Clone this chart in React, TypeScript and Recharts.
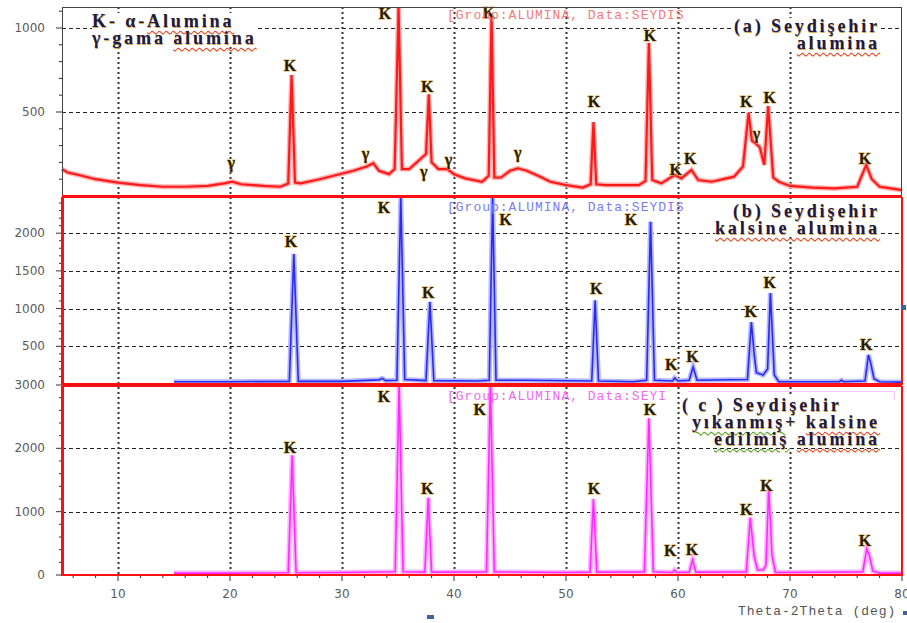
import React from 'react';
import { ComposedChart, Line, XAxis, YAxis } from 'recharts';

// panel (a) Seydişehir alumina (peaks running off the frame are read as the frame top)
const angleA = [5, 5.5, 6.5, 8, 10, 12, 14, 16, 18, 19.5, 20.2, 21, 23, 24.5, 25.2, 25.5, 25.8, 26.3, 28, 29.5, 31, 32.2, 32.8, 33.3, 34.2, 34.7, 35.05, 35.35, 36, 37, 37.5, 37.75, 38, 38.6, 39.4, 40, 41, 42.5, 43.1, 43.35, 43.6, 44.2, 45, 45.7, 46.5, 47.5, 48.6, 50, 51.5, 52.2, 52.45, 52.7, 53.5, 55, 56.5, 57.1, 57.4, 57.7, 58.5, 59.7, 60.3, 61.2, 61.8, 63, 65, 65.8, 66.3, 66.6, 66.9, 67.3, 67.7, 68.05, 68.5, 69, 70, 72, 74, 76, 76.8, 77.3, 78, 79, 80];
const countsA = [160, 140, 125, 100, 80, 65, 55, 55, 60, 75, 85, 70, 60, 55, 75, 720, 80, 75, 100, 125, 150, 175, 195, 150, 130, 160, 1125, 160, 160, 220, 250, 605, 200, 160, 160, 130, 105, 85, 120, 1080, 110, 110, 150, 165, 150, 120, 85, 65, 50, 70, 440, 70, 65, 65, 65, 90, 910, 95, 75, 125, 105, 155, 95, 85, 115, 175, 495, 330, 315, 290, 185, 535, 110, 85, 60, 50, 45, 55, 185, 100, 55, 45, 35];

// panel (b) kalsine alumina
const angleB = [15, 20, 25.3, 25.7, 26.1, 30, 33.3, 33.6, 33.9, 34.9, 35.25, 35.6, 37.5, 37.85, 38.2, 42, 43.15, 43.45, 43.75, 46.5, 52.3, 52.6, 52.9, 56, 57.2, 57.55, 57.9, 59.5, 59.7, 60, 61, 61.35, 61.7, 66.2, 66.55, 66.8, 67, 67.6, 68, 68.25, 68.6, 69, 74.4, 74.6, 74.8, 76.7, 77, 77.2, 77.5, 78, 80];
const countsB = [30, 30, 35, 1725, 35, 35, 55, 75, 45, 50, 2480, 60, 45, 1090, 45, 40, 50, 2480, 50, 50, 40, 1110, 40, 30, 50, 2150, 50, 40, 80, 40, 50, 225, 50, 60, 820, 400, 150, 120, 200, 1205, 120, 30, 30, 50, 30, 40, 385, 280, 70, 30, 25];

// panel (c) yıkanmış + kalsine edilmiş alumina
const angleC = [15, 20, 25.2, 25.55, 25.9, 30, 34.75, 35.1, 35.45, 37.4, 37.7, 38, 42.9, 43.25, 43.6, 50, 52.15, 52.45, 52.75, 57, 57.4, 57.8, 59.5, 59.7, 59.9, 61, 61.3, 61.6, 66.1, 66.45, 66.8, 67.1, 67.6, 67.85, 68.1, 68.4, 68.7, 76.5, 76.85, 77.1, 77.4, 78, 80];
const countsC = [30, 30, 35, 1890, 35, 40, 50, 3000, 50, 45, 1220, 45, 50, 3000, 50, 40, 45, 1200, 45, 50, 2475, 50, 40, 80, 40, 45, 240, 45, 50, 905, 300, 80, 80, 150, 1350, 300, 40, 50, 415, 300, 60, 30, 30];

// peak marks: angle, counts, symbol
const marksA = [
  [25.36, 779, 'K'], [33.84, 1089, 'K'], [37.6, 654, 'K'], [43.1, 1095, 'K'], [52.5, 565, 'K'], [57.5, 958, 'K'],
  [59.8, 155, 'K'], [61.1, 226, 'K'], [66.1, 565, 'K'], [68.2, 589, 'K'], [76.7, 226, 'K'],
  [20.1, 200, 'γ'], [32.1, 255, 'γ'], [37.3, 143, 'γ'], [39.5, 215, 'γ'], [45.7, 260, 'γ'], [67.0, 375, 'γ'],
];
const marksB = [
  [25.45, 1896, 'K'], [33.75, 2347, 'K'], [37.7, 1220, 'K'], [44.6, 2175, 'K'], [52.7, 1260, 'K'], [55.8, 2175, 'K'],
  [59.4, 265, 'K'], [61.3, 371, 'K'], [66.5, 955, 'K'], [68.2, 1340, 'K'], [76.8, 530, 'K'],
];
const marksC = [
  [25.36, 2015, 'K'], [33.75, 2825, 'K'], [37.6, 1365, 'K'], [42.3, 2619, 'K'], [52.5, 1365, 'K'], [57.5, 2619, 'K'],
  [59.3, 381, 'K'], [61.25, 397, 'K'], [66.1, 1032, 'K'], [67.9, 1412, 'K'], [76.7, 540, 'K'],
];

const xTicks = [6, 8, 10, 12, 14, 16, 18, 20, 22, 24, 26, 28, 30, 32, 34, 36, 38, 40, 42, 44, 46, 48, 50, 52, 54, 56, 58, 60, 62, 64, 66, 68, 70, 72, 74, 76, 78, 80];
const xLabels = [10, 20, 30, 40, 50, 60, 70, 80];
const xGrid = [10, 20, 30, 40, 50, 60, 70];

const yTicksA = [100, 200, 300, 400, 500, 600, 700, 800, 900, 1000, 1100];
const yLabelsA = [500, 1000];
const yTicksB = [100, 200, 300, 400, 500, 600, 700, 800, 900, 1000, 1100, 1200, 1300, 1400, 1500, 1600, 1700, 1800, 1900, 2000, 2100, 2200, 2300, 2400];
const yLabelsB = [500, 1000, 1500, 2000];
const yTicksC = [0, 200, 400, 600, 800, 1000, 1200, 1400, 1600, 1800, 2000, 2200, 2400, 2600, 2800, 3000];
const yLabelsC = [0, 1000, 2000, 3000];

const W = 907;
const PLOT_L = 62;
const PLOT_R = 902;
const X_MIN = 5;
const X_MAX = 80;
const tickFont = { fontFamily: 'DejaVu Sans', fontSize: 12, fill: '#5a5a5a' };
const serif = "'Liberation Serif', 'DejaVu Serif', serif";

// plot boxes of the three stacked panels (page pixels)
const PANELS = [
  { top: 7, h: 189, yMax: 1125, grid: [500, 1000] },
  { top: 197, h: 187, yMax: 2480, grid: [500, 1000, 1500, 2000] },
  { top: 385, h: 190, yMax: 3000, grid: [1000, 2000] },
];

const toPoints = (xs: number[], ys: number[]) => xs.map((x, i) => ({ x, y: ys[i] }));
const toMarks = (m: any[]) => m.map(([x, y, t]) => ({ x, y, t }));

const pointsA = toPoints(angleA, countsA);
const pointsB = toPoints(angleB, countsB);
const pointsC = toPoints(angleC, countsC);
const kA = toMarks(marksA);
const kB = toMarks(marksB);
const kC = toMarks(marksC);

const gx = (v: number) => PLOT_L + ((v - X_MIN) / (X_MAX - X_MIN)) * (PLOT_R - PLOT_L);

function GridLayer() {
  return (
    <svg width={W} height={623} style={{ position: 'absolute', left: 0, top: 0 }}>
      {PANELS.map((p, i) =>
        p.grid.map((v) => {
          const y = Math.round(p.top + p.h * (1 - v / p.yMax)) + 0.5;
          return <line key={i + '-' + v} x1={PLOT_L} x2={PLOT_R} y1={y} y2={y} stroke="#222" strokeWidth={1.2} strokeDasharray="4 3" />;
        })
      )}
      {xGrid.map((v) => {
        const x = Math.round(gx(v)) + 0.5;
        return <line key={'v' + v} x1={x} x2={x} y1={7} y2={575} stroke="#333" strokeWidth={2} strokeDasharray="2 3" />;
      })}
    </svg>
  );
}

function YTick(props: any) {
  const { x, y, payload, labels } = props;
  const major = labels.includes(payload.value);
  return (
    <g>
      <line x1={x - (major ? 6 : 3)} x2={x} y1={y} y2={y} stroke="#333" strokeWidth={1} />
      {major && (
        <text x={x - 17} y={y} textAnchor="end" dominantBaseline="central" {...tickFont}>
          {payload.value}
        </text>
      )}
    </g>
  );
}

function XTick(props: any) {
  const { x, y, payload } = props;
  const major = xLabels.includes(payload.value);
  return (
    <g>
      <line x1={x} x2={x} y1={y} y2={y + (major ? 6 : 3)} stroke="#333" strokeWidth={1} />
      {major && (
        <text x={x} y={y + 19} textAnchor="middle" dominantBaseline="central" {...tickFont}>
          {payload.value}
        </text>
      )}
    </g>
  );
}

function Mark(props: any) {
  const { cx, cy, payload } = props;
  return (
    <text
      key={`${payload.x}-${payload.y}`}
      x={cx}
      y={cy}
      textAnchor="middle"
      dominantBaseline="central"
      fontFamily={serif}
      fontWeight="bold"
      fontSize={16}
      fill="#231d0c"
      stroke="#e2a83a"
      strokeWidth={0.9}
      paintOrder="stroke"
    >
      {payload.t}
    </text>
  );
}

interface PanelProps {
  id: string;
  top: number;
  height: number;
  margin: { top: number; bottom: number };
  points: { x: number; y: number }[];
  marks: { x: number; y: number; t: string }[];
  color: string;
  pale: string;
  yMax: number;
  yTicks: number[];
  yLabels: number[];
  showX?: boolean;
  lineWidth: number;
}

function Panel({ id, top, height, margin, points, marks, color, pale, yMax, yTicks, yLabels, showX, lineWidth }: PanelProps) {
  return (
    <div style={{ position: 'absolute', left: 0, top }}>
      <ComposedChart id={id} width={W} height={height} margin={{ top: margin.top, bottom: margin.bottom, left: 0, right: W - PLOT_R }}>
        <XAxis
          type="number"
          dataKey="x"
          domain={[X_MIN, X_MAX]}
          ticks={xTicks}
          interval={0}
          hide={!showX}
          height={30}
          axisLine={false}
          tickLine={false}
          tickSize={0}
          tickMargin={0}
          tick={<XTick />}
        />
        <YAxis
          type="number"
          dataKey="y"
          domain={[0, yMax]}
          ticks={yTicks}
          interval={0}
          width={PLOT_L}
          axisLine={false}
          tickLine={false}
          tickSize={0}
          tickMargin={0}
          tick={<YTick labels={yLabels} />}
        />
        <Line data={points} dataKey="y" type="linear" stroke={pale} strokeWidth={5} dot={false} isAnimationActive={false} />
        <Line data={points} dataKey="y" type="linear" stroke={color} strokeWidth={lineWidth} dot={false} isAnimationActive={false} />
        {/* peak labels: invisible line, one text mark per point */}
        <Line data={marks} dataKey="y" stroke="none" dot={<Mark />} activeDot={false} isAnimationActive={false} />
      </ComposedChart>
    </div>
  );
}

const box = (s: React.CSSProperties): React.CSSProperties => ({ position: 'absolute', ...s });
const capStyle: React.CSSProperties = {
  fontFamily: serif,
  fontWeight: 'bold',
  fontSize: 18,
  lineHeight: '17px',
  letterSpacing: 2.9,
  color: '#1b1b4d',
  textShadow: '0.6px 0.6px 0 #d9aa4a',
  background: '#fff',
  whiteSpace: 'nowrap',
};
const red: React.CSSProperties = { textDecoration: 'underline wavy #e02020', textDecorationThickness: 1, textUnderlineOffset: 3 };
const green: React.CSSProperties = { textDecoration: 'underline wavy #20a020', textDecorationThickness: 1, textUnderlineOffset: 3 };
const mono: React.CSSProperties = { fontFamily: "'Liberation Mono', 'DejaVu Sans Mono', monospace", fontSize: 13, letterSpacing: 1, whiteSpace: 'nowrap', lineHeight: '14px' };

export default function App() {
  return (
    <div style={{ position: 'relative', width: W, height: 623, overflow: 'hidden' }}>
      <style>{'body{margin:0;background:#fff}'}</style>
      <GridLayer />
      <Panel
        id="panelA"
        top={0}
        height={197}
        margin={{ top: 7, bottom: 1 }}
        points={pointsA}
        marks={kA}
        color="#ff1a1a"
        pale="#ffb0b0"
        yMax={1125}
        yTicks={yTicksA}
        yLabels={yLabelsA}
        lineWidth={2.2}
      />
      <Panel
        id="panelB"
        top={187}
        height={198}
        margin={{ top: 10, bottom: 1 }}
        points={pointsB}
        marks={kB}
        color="#2b2bf0"
        pale="#b4b8ff"
        yMax={2480}
        yTicks={yTicksB}
        yLabels={yLabelsB}
        lineWidth={1.6}
      />
      <Panel
        id="panelC"
        top={370}
        height={253}
        margin={{ top: 15, bottom: 18 }}
        points={pointsC}
        marks={kC}
        color="#ff2cff"
        pale="#ffb4ff"
        yMax={3000}
        yTicks={yTicksC}
        yLabels={yLabelsC}
        showX
        lineWidth={1.6}
      />

      {/* frames */}
      <div style={box({ left: PLOT_L, top: 7, width: PLOT_R - PLOT_L, height: 189, borderTop: '1px solid #444', borderLeft: '1px solid #444', borderRight: '1px solid #444', boxSizing: 'border-box' })} />
      <div style={box({ left: PLOT_L, top: 195, width: PLOT_R - PLOT_L, height: 3, background: '#ff1010' })} />
      <div style={box({ left: PLOT_L - 1, top: 197, width: PLOT_R - PLOT_L + 2, height: 188, borderLeft: '3px solid #ff1010', borderRight: '2px solid #ff1010', boxSizing: 'border-box' })} />
      <div style={box({ left: PLOT_L, top: 383, width: PLOT_R - PLOT_L, height: 4, background: '#ff1010' })} />
      <div style={box({ left: PLOT_L - 1, top: 386, width: PLOT_R - PLOT_L + 2, height: 190, borderLeft: '3px solid #ff1010', borderRight: '2px solid #ff1010', borderBottom: '2px solid #ff1010', boxSizing: 'border-box' })} />

      {/* panel a captions */}
      <div style={box({ left: 92, top: 13, ...capStyle })}>
        K- α-<span style={red}>Alumina</span>
        <br />
        γ-gama <span style={red}>alumina</span>
      </div>
      <div style={box({ left: 447, top: 9, color: '#f27a7a', ...mono })}>[Group:ALUMINA, Data:SEYDIS</div>
      <div style={box({ right: W - 880, top: 18, textAlign: 'right', ...capStyle })}>
        (a) Seydişehir
        <br />
        <span style={red}>alumina</span>
      </div>

      {/* panel b captions */}
      <div style={box({ left: 447, top: 201, color: '#7c7cf2', ...mono })}>[Group:ALUMINA, Data:SEYDIS</div>
      <div style={box({ right: W - 880, top: 203, textAlign: 'right', ...capStyle })}>
        (b) Seydişehir
        <br />
        <span style={red}>kalsine alumina</span>
      </div>

      {/* panel c captions */}
      <div style={box({ left: 447, top: 390, color: '#f06af0', ...mono })}>[Group:ALUMINA, Data:SEYI</div>
      <div style={box({ left: 688, top: 391, width: 207, height: 9, borderTop: '1px solid #f4c4f4', borderRight: '1px solid #f4c4f4', boxSizing: 'border-box' })} />
      <div style={box({ right: W - 880, top: 397, textAlign: 'right', ...capStyle })}>
        <div style={{ textAlign: 'left', marginLeft: -10 }}>( c ) Seydişehir</div>
        <span style={green}>yıkanmış</span>+ <span style={red}>kalsine</span>
        <br />
        <span style={green}>edilmiş</span> <span style={red}>alumina</span>
      </div>

      <div style={box({ left: 738, top: 605, color: '#555', ...mono })}>Theta-2Theta (deg)</div>
      <div style={box({ left: 427, top: 615, width: 7, height: 4, background: '#3f63a6' })} />
      <div style={box({ left: 901, top: 305, width: 5, height: 5, background: '#3f63a6' })} />
      <div style={box({ left: 903, top: 611, width: 4, height: 4, background: '#3f63a6' })} />
    </div>
  );
}
